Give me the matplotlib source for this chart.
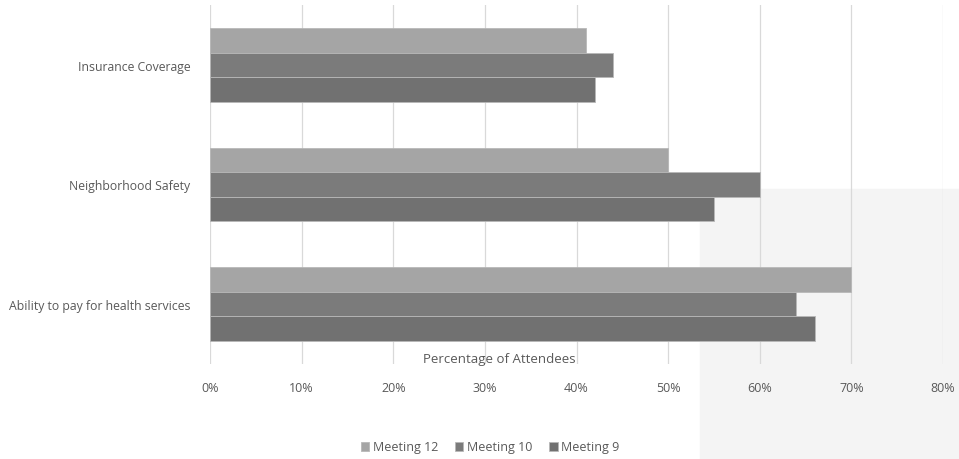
import matplotlib.pyplot as plt
import numpy as np
from matplotlib.patches import Rectangle

# Data
categories = ["Ability to pay for health services", "Neighborhood Safety", "Insurance Coverage"]
meeting_12 = [70, 50, 41]
meeting_10 = [64, 60, 44]
meeting_9 = [66, 55, 42]
series_names = ["Meeting 12", "Meeting 10", "Meeting 9"]
xticks = [0, 10, 20, 30, 40, 50, 60, 70, 80]

plt.rcParams['font.family'] = ['Open Sans', 'DejaVu Sans']

W, H = 959, 460
fig = plt.figure(figsize=(W / 100, H / 100), dpi=100)

# faint watermark block in the lower right, behind everything
fig.patches.append(Rectangle((700 / W, 0), 259 / W, 270 / H, transform=fig.transFigure,
                             color='#f4f4f4', zorder=-10))

ax = fig.add_axes([210 / W, (H - 365) / H, (943 - 210) / W, (365 - 6) / H])
ax.patch.set_alpha(0)
ax.set_zorder(1)

y = np.arange(len(categories))
h = 0.206
colors = ['#a5a5a5', '#7b7b7b', '#717171']
for i, (vals, name, c) in enumerate(zip([meeting_12, meeting_10, meeting_9], series_names, colors)):
    ax.barh(y + (1 - i) * h, vals, height=h, color=c, label=name,
            edgecolor='#b8b8b8', linewidth=0.6, zorder=3)

ax.set_xlim(0, 80)
ax.set_ylim(-0.5, 2.5)
ax.set_xticks(xticks)
ax.set_xticklabels([f"{t}%" for t in xticks], fontsize=9, color='#595959')
ax.set_yticks(y)
ax.set_yticklabels(categories, fontsize=8.8, color='#595959')
ax.tick_params(length=0)
ax.tick_params(axis='x', pad=12)
ax.tick_params(axis='y', pad=14)
ax.grid(axis='x', color='#d9d9d9', linewidth=0.9, zorder=0)
for s in ax.spines.values():
    s.set_visible(False)

fig.text(499 / W, 1 - 359 / H, "Percentage of Attendees", ha='center', va='center',
         fontsize=9.5, color='#595959', zorder=5)

fig.legend(loc='center', bbox_to_anchor=(490 / W, 1 - 448 / H), ncol=3, frameon=False,
           fontsize=9, handlelength=0.7, handleheight=0.7, handletextpad=0.3,
           columnspacing=1.3, labelcolor='#595959')

fig.savefig("out.png", dpi=100)
